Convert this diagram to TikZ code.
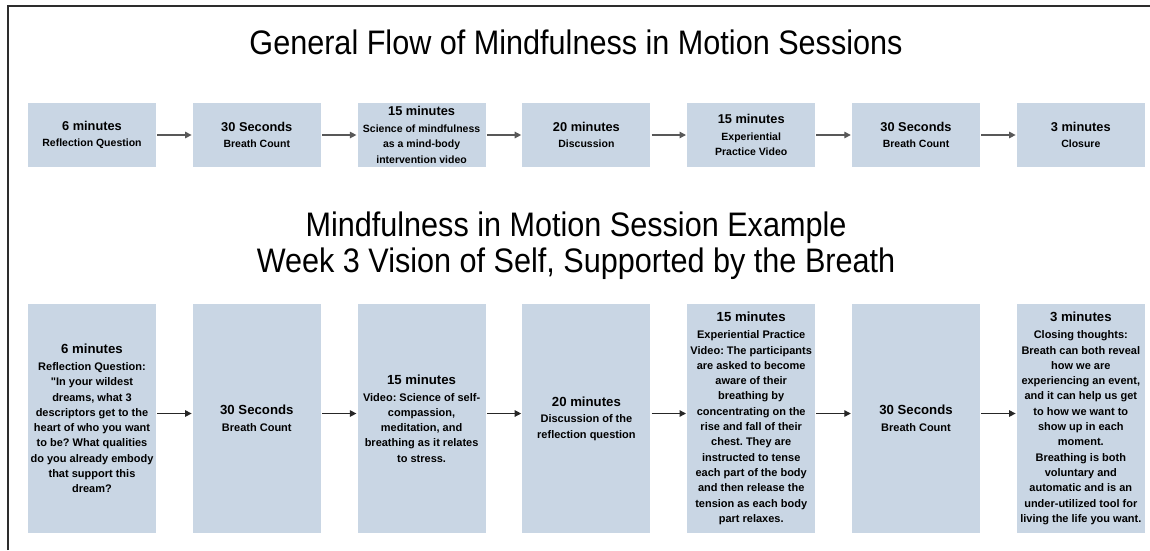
\documentclass[tikz,border=0pt]{standalone}
\usepackage{fontspec}
\setmainfont{Liberation Sans}
\usepackage{graphicx}
\usepackage{xcolor}
\usepackage{tikz}
\usetikzlibrary{shapes, arrows.meta, positioning}
\frenchspacing

\definecolor{boxblue}{RGB}{201,214,228}
\definecolor{flowgray}{RGB}{88,88,88}
\definecolor{stepgray}{RGB}{38,38,38}
\definecolor{framegray}{RGB}{45,45,45}

\newcommand{\titlefont}{\fontsize{34}{36}\selectfont}
\newcommand{\flowhead}{\fontsize{12.8}{17}\selectfont\bfseries}
\newcommand{\flowtext}{\fontsize{10.5}{15.5}\selectfont\bfseries}
\newcommand{\stephead}{\fontsize{13.2}{17}\selectfont\bfseries}
\newcommand{\steptext}{\fontsize{11}{15.3}\selectfont\bfseries}

\begin{document}
\begin{tikzpicture}
  [
    x=1pt, y=-1pt,
    Flat/.style={rectangle, fill=boxblue, minimum width=128pt, minimum height=64pt, inner sep=0pt, align=center, font=\flowtext},
    Tall/.style={rectangle, fill=boxblue, minimum width=128pt, minimum height=229pt, inner sep=0pt, align=center, font=\steptext},
    Title/.style={inner sep=0pt, align=center, font=\titlefont},
    >={Triangle[length=6.5pt, width=6.5pt]}
  ]
  \useasboundingbox (0,0) rectangle (1150,550);
  \draw[line width=2pt, framegray] (8,550) -- (8,6) -- (1150,6);

  % Titles (x, y)
  \node[Title] (head1) at(576, 42) {\scalebox{0.9}[1]{General Flow of Mindfulness in Motion Sessions}};
  \node[Title] (head2) at(576, 228) {\scalebox{0.9}[1]{Mindfulness in Motion Session Example}};
  \node[Title] (head3) at(576, 264) {\scalebox{0.9}[1]{Week 3 Vision of Self, Supported by the Breath}};

  % General flow (x, y)
  \node[Flat] (g1) at(92, 135) {\flowhead 6 minutes\\[1pt] Reflection Question};
  \node[Flat] (g2) at(256.8, 135) {\flowhead 30 Seconds\\[1pt] Breath Count};
  \node[Flat] (g3) at(421.6, 135) {\flowhead 15 minutes\\[1pt] Science of mindfulness\\ as a mind-body\\ intervention video};
  \node[Flat] (g4) at(586.4, 135) {\flowhead 20 minutes\\[1pt] Discussion};
  \node[Flat] (g5) at(751.2, 135) {\flowhead 15 minutes\\[1pt] Experiential\\ Practice Video};
  \node[Flat] (g6) at(916, 135) {\flowhead 30 Seconds\\[1pt] Breath Count};
  \node[Flat] (g7) at(1080.8, 135) {\flowhead 3 minutes\\[1pt] Closure};

  % Week 3 example (x, y)
  \node[Tall] (e1) at(92, 418.5) {\stephead 6 minutes\\[1.5pt] Reflection Question:\\ \textquotedbl In your wildest\\ dreams, what 3\\ descriptors get to the\\ heart of who you want\\ to be? What qualities\\ do you already embody\\ that support this\\ dream?};
  \node[Tall] (e2) at(256.8, 418.5) {\stephead 30 Seconds\\[1.5pt] Breath Count};
  \node[Tall] (e3) at(421.6, 418.5) {\stephead 15 minutes\\[1.5pt] Video: Science of self-\\ compassion,\\ meditation, and\\ breathing as it relates\\ to stress.};
  \node[Tall] (e4) at(586.4, 418.5) {\stephead 20 minutes\\[1.5pt] Discussion of the\\ reflection question};
  \node[Tall] (e5) at(751.2, 418.5) {\stephead 15 minutes\\[1.5pt] Experiential Practice\\ Video: The participants\\ are asked to become\\ aware of their\\ breathing by\\ concentrating on the\\ rise and fall of their\\ chest. They are\\ instructed to tense\\ each part of the body\\ and then release the\\ tension as each body\\ part relaxes.};
  \node[Tall] (e6) at(916, 418.5) {\stephead 30 Seconds\\[1.5pt] Breath Count};
  \node[Tall] (e7) at(1080.8, 418.5) {\stephead 3 minutes\\[1.5pt] Closing thoughts:\\ Breath can both reveal\\ how we are\\ experiencing an event,\\ and it can help us get\\ to how we want to\\ show up in each\\ moment.\\ Breathing is both\\ voluntary and\\ automatic and is an\\ under-utilized tool for\\ living the life you want.};

  % Lines
  % general flow
  \foreach \a/\b in {g1/g2, g2/g3, g3/g4, g4/g5, g5/g6, g6/g7}
    \path [->, draw, line width=1.3pt, flowgray, shorten <=1pt, shorten >=1pt] (\a) -- (\b);
  % week 3 example
  \foreach \a/\b in {e1/e2, e2/e3, e3/e4, e4/e5, e5/e6, e6/e7}
    \path [->, draw, line width=1.2pt, stepgray, shorten <=1pt, shorten >=1pt] ([yshift=5pt]\a.east) -- ([yshift=5pt]\b.west);

\end{tikzpicture}
\end{document}
